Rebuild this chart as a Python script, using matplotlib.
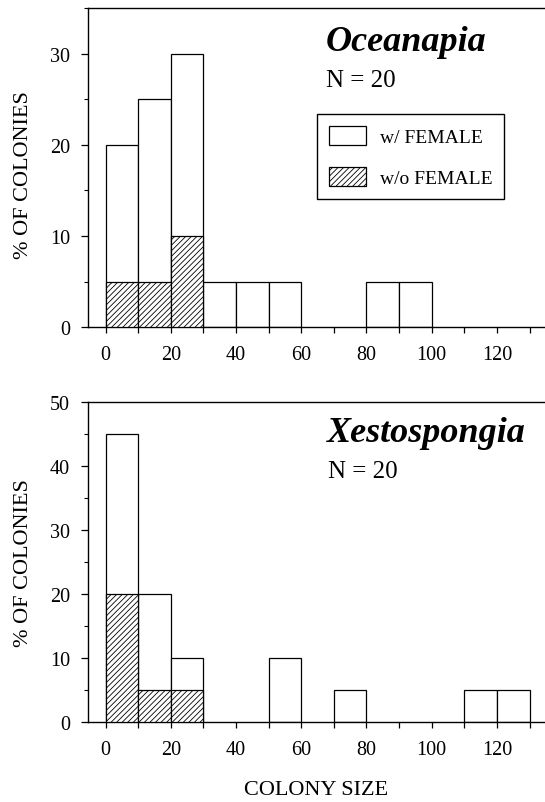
import numpy as np
import matplotlib
matplotlib.use("Agg")
import matplotlib.pyplot as plt
from matplotlib.patches import Patch
from matplotlib.ticker import MultipleLocator

plt.rcParams['font.family'] = ['Liberation Serif', 'DejaVu Serif']
plt.rcParams['hatch.linewidth'] = 0.6

###############################################################################
# Data (% of colonies per colony-size bin, bins 10 wide)

bin_left = [0, 10, 20, 30, 40, 50, 60, 70, 80, 90, 100, 110, 120]

ocean_total = [20, 25, 30, 5, 5, 5, 0, 0, 5, 5, 0, 0, 0]
ocean_nofem = [5, 5, 10, 0, 0, 0, 0, 0, 0, 0, 0, 0, 0]

xesto_total = [45, 20, 10, 0, 0, 10, 0, 5, 0, 0, 0, 5, 5]
xesto_nofem = [20, 5, 5, 0, 0, 0, 0, 0, 0, 0, 0, 0, 0]

panels = [
    ("Oceanapia", "N = 20", ocean_total, ocean_nofem, 35),
    ("Xestospongia", "N = 20", xesto_total, xesto_nofem, 50),
]

###############################################################################
# Plot

fig = plt.figure(figsize=(5.45, 8.03), dpi=100)
ax_top = fig.add_axes([0.1615, 0.5912, 0.8385, 0.3976])
ax_bot = fig.add_axes([0.1615, 0.1000, 0.8385, 0.3978])

title_pos = [(0.519, 0.868, 0.521, 0.756), (0.523, 0.879, 0.525, 0.766)]

for ax, (name, ntext, total, nofem, ytop), tp in zip([ax_top, ax_bot], panels, title_pos):
    left = np.array(bin_left)
    tot = np.array(total)
    nof = np.array(nofem)

    m = tot > 0
    ax.bar(left[m], tot[m], width=10, align='edge', facecolor='white',
           edgecolor='black', linewidth=0.9, zorder=2)
    m = nof > 0
    ax.bar(left[m], nof[m], width=10, align='edge', facecolor='white',
           edgecolor='black', hatch='//////', linewidth=0.9, zorder=3)

    ax.set_xlim(-5.4, 134.75)
    ax.set_ylim(0, ytop)
    ax.spines['right'].set_visible(False)
    for s in ['left', 'top', 'bottom']:
        ax.spines[s].set_linewidth(1.0)

    ax.xaxis.set_major_locator(MultipleLocator(20))
    ax.xaxis.set_minor_locator(MultipleLocator(10))
    ax.yaxis.set_major_locator(MultipleLocator(10))
    ax.yaxis.set_minor_locator(MultipleLocator(5))
    ax.set_xticks([0, 20, 40, 60, 80, 100, 120])
    ax.tick_params(axis='both', which='both', direction='out', labelsize=14.5)
    ax.tick_params(axis='x', which='both', length=4, width=0.9, pad=9)
    ax.tick_params(axis='y', which='major', length=5, width=0.9, pad=8)
    ax.tick_params(axis='y', which='minor', length=3, width=0.8)

    ax.set_ylabel('% OF COLONIES', fontsize=16)
    ax.text(tp[0], tp[1], name, transform=ax.transAxes, fontsize=26,
            fontweight='bold', fontstyle='italic', va='baseline', ha='left')
    ax.text(tp[2], tp[3], ntext, transform=ax.transAxes, fontsize=18,
            va='baseline', ha='left')

ax_top.yaxis.set_label_coords(-0.12, 0.48)
ax_bot.yaxis.set_label_coords(-0.12, 0.5)

handles = [Patch(facecolor='white', edgecolor='black', linewidth=0.9),
           Patch(facecolor='white', edgecolor='black', hatch='//////', linewidth=0.9)]
leg = ax_top.legend(handles, ['w/ FEMALE', 'w/o FEMALE'], loc='upper left',
                    bbox_to_anchor=(0.501, 0.668), borderaxespad=0, fontsize=14,
                    handlelength=1.9, handleheight=1.13, handletextpad=0.72,
                    labelspacing=1.1, borderpad=0.6, fancybox=False,
                    framealpha=1, edgecolor='black')
leg.get_frame().set_linewidth(1.0)

fig.text(0.5808, 0.016, 'COLONY SIZE', fontsize=16, ha='center', va='center')

fig.savefig('out.png', dpi=100)
